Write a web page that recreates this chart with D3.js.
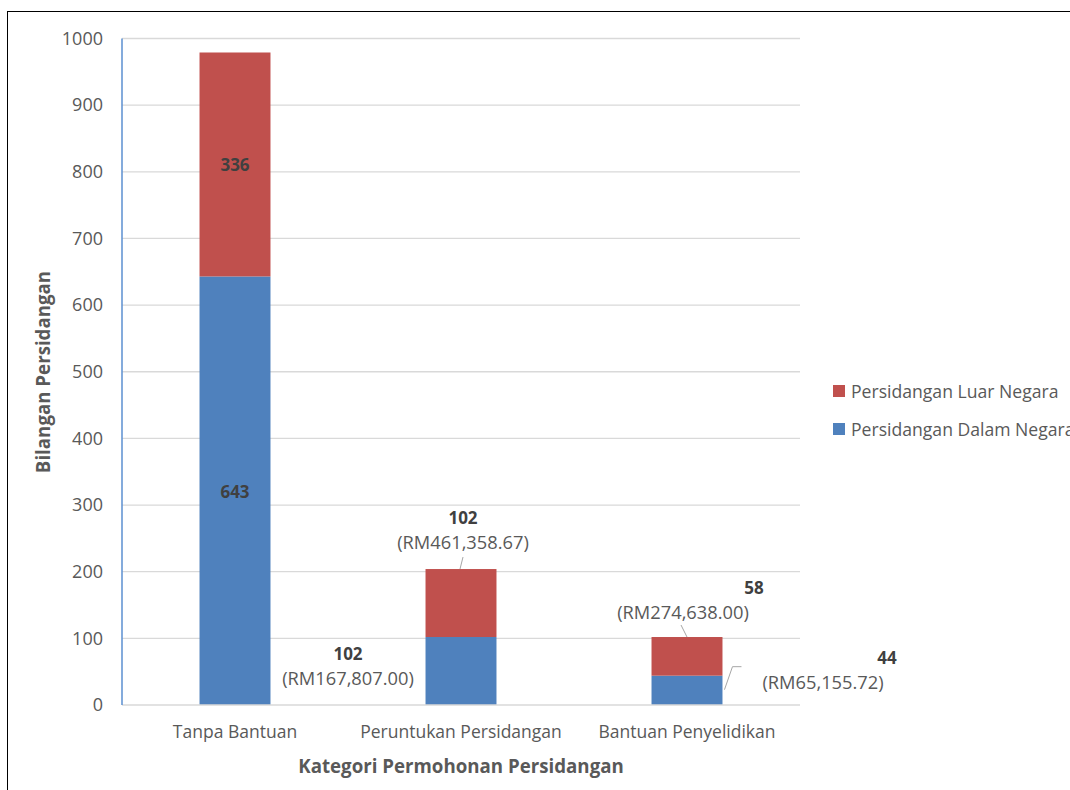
<!DOCTYPE html>
<html><head><meta charset="utf-8">
<script src="https://cdn.jsdelivr.net/npm/d3@7"></script>
<style>
body{margin:0;background:#fff;}
svg text{font-family:"Open Sans",sans-serif;}
</style></head>
<body><svg id="c" width="1070" height="790"></svg>
<script>
const categories = ["Tanpa Bantuan","Peruntukan Persidangan","Bantuan Penyelidikan"];
const dalamNegara = [643,102,44];
const luarNegara = [336,102,58];
const dalamCost = [null,"(RM167,807.00)","(RM65,155.72)"];
const luarCost = [null,"(RM461,358.67)","(RM274,638.00)"];
const yTicks = [0,100,200,300,400,500,600,700,800,900,1000];
const seriesNames = ["Persidangan Luar Negara","Persidangan Dalam Negara"];
const colors = {luar:"#c0504d", dalam:"#4f81bd"};

const svg = d3.select("#c");
const textCol = "#595959";
const FF = '"Open Sans",sans-serif';
// frame
svg.append("rect").attr("x",7.5).attr("y",11.5).attr("width",1080).attr("height",800)
  .attr("fill","none").attr("stroke","#000").attr("stroke-width",1);

const L=122, R=800, T=38.5, B=705;
const x = d3.scaleBand().domain(categories).range([L,R]).paddingInner(0.686).paddingOuter(0.343);
const y = d3.scaleLinear().domain([0,1000]).range([B,T]);

// gridlines
svg.append("g").selectAll("line").data(yTicks.filter(d=>d>0)).join("line")
  .attr("x1",L).attr("x2",R).attr("y1",d=>y(d)).attr("y2",d=>y(d))
  .attr("stroke","#d9d9d9").attr("stroke-width",1.3);

// y axis
const ya = svg.append("g").attr("transform",`translate(${L},0)`)
  .call(d3.axisLeft(y).tickValues(yTicks).tickFormat(d3.format("d")).tickSize(0).tickPadding(19));
ya.select(".domain").remove();
ya.selectAll("text").attr("font-size",18).attr("fill",textCol).style("font-family",FF);

const stack = categories.map((c,i)=>({c,d:dalamNegara[i],l:luarNegara[i]}));
const g = svg.append("g");
g.selectAll("rect.d").data(stack).join("rect").attr("class","d")
  .attr("x",d=>x(d.c)).attr("width",x.bandwidth())
  .attr("y",d=>y(d.d)).attr("height",d=>y(0)-y(d.d)).attr("fill",colors.dalam);
g.selectAll("rect.l").data(stack).join("rect").attr("class","l")
  .attr("x",d=>x(d.c)).attr("width",x.bandwidth())
  .attr("y",d=>y(d.d+d.l)).attr("height",d=>y(d.d)-y(d.d+d.l)).attr("fill",colors.luar);

// baseline & y axis line
svg.append("line").attr("x1",L).attr("x2",R).attr("y1",B).attr("y2",B).attr("stroke","#d9d9d9").attr("stroke-width",1.3);
svg.append("line").attr("x1",L).attr("x2",L).attr("y1",T).attr("y2",B).attr("stroke","#5b8fd0").attr("stroke-width",1.5);

// category labels
svg.append("g").selectAll("text").data(categories).join("text")
  .attr("x",d=>x(d)+x.bandwidth()/2).attr("y",738).attr("text-anchor","middle")
  .attr("font-size",17.5).attr("fill",textCol).text(d=>d);

// axis titles
svg.append("text").attr("x",461).attr("y",773).attr("text-anchor","middle")
  .attr("font-size",18.7).attr("font-weight","bold").attr("fill",textCol).text("Kategori Permohonan Persidangan");
svg.append("text").attr("transform","translate(50,372) rotate(-90)").attr("text-anchor","middle")
  .attr("font-size",18.7).attr("font-weight","bold").attr("fill",textCol).text("Bilangan Persidangan");

// data labels
const cx = i=>x(categories[i])+x.bandwidth()/2;
const lab = (px,py,t,bold)=>svg.append("text").attr("x",px).attr("y",py).attr("text-anchor","middle")
  .attr("font-size",bold?17:18.3).attr("font-weight",bold?"bold":"normal").attr("fill",bold?"#404040":textCol).text(t);
// first bar inside
lab(cx(0), y(dalamNegara[0]+luarNegara[0]/2)+7, luarNegara[0], true);
lab(cx(0), y(dalamNegara[0]/2)+7, dalamNegara[0], true);
// second bar
const top1 = dalamNegara[1]+luarNegara[1];
lab(cx(1)+2, y(top1)-45, luarNegara[1], true);
lab(cx(1)+2, y(top1)-20, luarCost[1], false);
svg.append("line").attr("x1",cx(1)+2).attr("y1",y(top1)-12).attr("x2",cx(1)-1).attr("y2",y(top1)).attr("stroke","#a6a6a6");
lab(348, y(dalamNegara[1])+23, dalamNegara[1], true);
lab(348, y(dalamNegara[1])+48, dalamCost[1], false);
// third bar
const top2 = dalamNegara[2]+luarNegara[2];
lab(754, y(top2)-43, luarNegara[2], true);
lab(683, y(top2)-18, luarCost[2], false);
svg.append("line").attr("x1",681).attr("y1",y(top2)-12).attr("x2",687).attr("y2",y(top2)).attr("stroke","#a6a6a6");
lab(887, y(dalamNegara[2])-12, dalamNegara[2], true);
lab(823, y(dalamNegara[2])+13, dalamCost[2], false);
svg.append("polyline").attr("points",`${x(categories[2])+x.bandwidth()+2},${y(dalamNegara[2])+14} ${x(categories[2])+x.bandwidth()+10},${y(dalamNegara[2])-9} ${x(categories[2])+x.bandwidth()+19},${y(dalamNegara[2])-9}`)
  .attr("fill","none").attr("stroke","#a6a6a6");

// legend
const leg = svg.append("g");
[["luar",0],["dalam",1]].forEach(([k,i])=>{
  const yy = 391 + i*38;
  leg.append("rect").attr("x",833).attr("y",yy-6).attr("width",12).attr("height",12).attr("fill",colors[k]);
  leg.append("text").attr("x",851).attr("y",yy+6.5).attr("font-size",17.6).attr("fill",textCol).text(seriesNames[i]);
});
</script></body></html>
